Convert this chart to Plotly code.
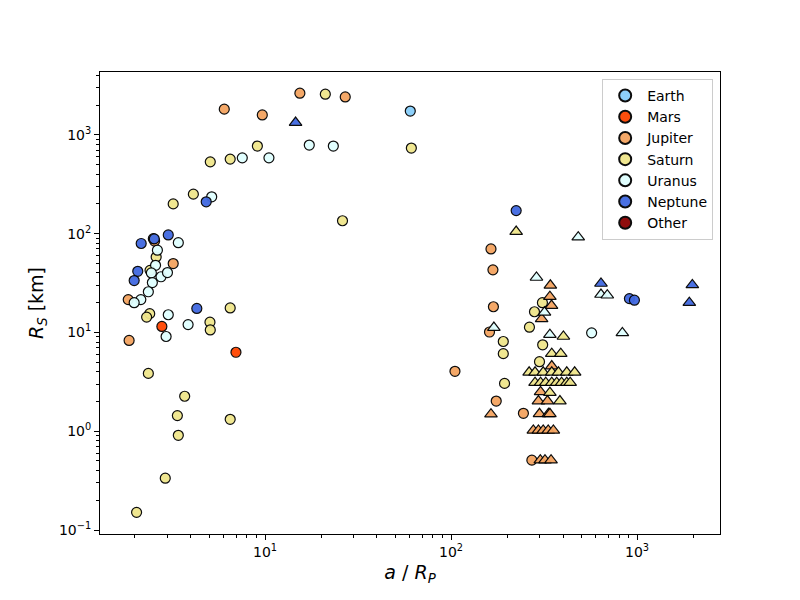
import plotly.graph_objects as go

# ---- data: (a/Rp, Rs km) ----
earth_pro_x = [60.4]
earth_pro_y = [1740]

mars_pro_x = [2.79, 6.98]
mars_pro_y = [11.5, 6.3]

jupiter_pro_x = [6.04, 9.67, 15.4, 27.0, 2.55, 3.21, 1.84, 1.86, 164, 168, 169, 161, 105, 175, 245, 272]
jupiter_pro_y = [1820, 1590, 2640, 2420, 84, 49.8, 21.5, 8.3, 70, 43, 18.2, 10.1, 4.04, 2.02, 1.52, 0.51]
jupiter_ret_x = [342, 340, 347, 307, 348, 303, 295, 330, 164, 299, 334, 340, 277, 295, 313, 333, 355, 302, 320, 345]
jupiter_ret_y = [30, 23, 18.7, 13.7, 4.57, 2.5, 2.02, 2.02, 1.49, 1.5, 1.5, 1.5, 1.02, 1.02, 1.02, 1.02, 1.02, 0.51, 0.51, 0.51]

saturn_pro_x = [21.1, 61.2, 9.1, 5.08, 6.5, 4.12, 3.21, 26.1, 2.51, 2.60, 2.41, 2.40, 2.31, 6.5, 5.06, 5.08,
                2.36, 3.70, 3.38, 6.5, 3.42, 2.91, 2.04, 310, 281, 264, 191, 311, 191, 299, 194]
saturn_pro_y = [2580, 735, 770, 533, 568, 251, 200, 135, 89, 58, 42.5, 15.5, 14.3, 17.7, 12.7, 10.6,
                3.85, 2.26, 1.44, 1.32, 0.91, 0.335, 0.151, 20, 16.2, 11.3, 8.1, 7.5, 6.1, 5.06, 3.05]
saturn_ret_x = [224, 402, 348, 389, 263, 283, 313, 348, 378, 419, 462, 283, 303, 323, 348, 370, 393, 419, 437,
                340, 385]
saturn_ret_y = [105, 9.1, 6.1, 6.1, 3.95, 3.95, 3.95, 3.95, 3.95, 3.95, 3.95, 3.1, 3.1, 3.1, 3.1, 3.1, 3.1, 3.1, 3.1,
                2.46, 2.02]

uranus_pro_x = [17.3, 23.3, 7.55, 10.5, 5.17, 3.42, 2.64, 2.58, 2.45, 2.76, 2.99, 2.48, 2.36, 2.15, 1.98, 3.02, 3.86, 2.94, 570]
uranus_pro_y = [788, 770, 585, 585, 236, 81, 68, 47.8, 40, 36.6, 40.4, 32, 25.8, 21.5, 20, 15.1, 12.0, 9.1, 9.9]
uranus_ret_x = [483, 288, 318, 170, 340, 640, 692, 834]
uranus_ret_y = [92, 36, 16, 11.2, 9.5, 24.2, 23.8, 9.9]

neptune_pro_x = [4.83, 3.02, 2.54, 2.16, 2.07, 1.98, 4.30, 224, 910, 968]
neptune_pro_y = [210, 97, 88.5, 79.5, 41.6, 33.5, 17.5, 171, 22, 21.2]
neptune_ret_x = [14.6, 640, 1983, 1910]
neptune_ret_y = [1330, 31.3, 30.3, 20]

other_pro_x = [None]
other_pro_y = [None]

x_tickvals = [10, 100, 1000]
x_ticktext = ["10<sup>1</sup>", "10<sup>2</sup>", "10<sup>3</sup>"]
y_tickvals = [0.1, 1, 10, 100, 1000]
y_ticktext = ["10<sup>\u22121</sup>", "10<sup>0</sup>", "10<sup>1</sup>", "10<sup>2</sup>", "10<sup>3</sup>"]

groups = [
    ("Earth", "#87CEFA", earth_pro_x, earth_pro_y, [], []),
    ("Mars", "#FF4500", mars_pro_x, mars_pro_y, [], []),
    ("Jupiter", "#F4A460", jupiter_pro_x, jupiter_pro_y, jupiter_ret_x, jupiter_ret_y),
    ("Saturn", "#F0E68C", saturn_pro_x, saturn_pro_y, saturn_ret_x, saturn_ret_y),
    ("Uranus", "#E0FFFF", uranus_pro_x, uranus_pro_y, uranus_ret_x, uranus_ret_y),
    ("Neptune", "#4169E1", neptune_pro_x, neptune_pro_y, neptune_ret_x, neptune_ret_y),
    ("Other", "#8B0000", other_pro_x, other_pro_y, [], []),
]

fig = go.Figure()
for name, col, px_, py_, rx, ry in groups:
    fig.add_trace(go.Scatter(
        x=px_, y=py_, mode="markers", name=name, legendgroup=name,
        marker=dict(symbol="circle", size=10, color=col, opacity=0.95,
                    line=dict(color="black", width=1.2)),
    ))
for name, col, px_, py_, rx, ry in groups:
    if rx:
        fig.add_trace(go.Scatter(
            x=rx, y=ry, mode="markers", name=name, legendgroup=name, showlegend=False,
            marker=dict(symbol="triangle-up", size=11, color=col, opacity=0.95,
                        line=dict(color="black", width=1.2)),
        ))

axis_common = dict(
    type="log", showgrid=False, zeroline=False, showline=True, linecolor="black",
    linewidth=1, mirror=True, ticks="outside", ticklen=5, tickwidth=1, tickcolor="black",
    tickfont=dict(size=14, color="black"),
    minor=dict(ticks="outside", ticklen=3, tickwidth=0.8, tickcolor="black", dtick="D1", showgrid=False),
)

fig.update_layout(
    width=800, height=600,
    margin=dict(l=92, r=88, t=64, b=74),
    paper_bgcolor="white", plot_bgcolor="white",
    font=dict(family="DejaVu Sans", color="black"),
    xaxis=dict(axis_common, range=[0.113, 3.446], tickvals=x_tickvals, ticktext=x_ticktext,
               title=dict(text="<i>a</i> / <i>R</i><sub><i>P</i></sub>", font=dict(size=19), standoff=6)),
    yaxis=dict(axis_common, range=[-1.04, 3.636], tickvals=y_tickvals, ticktext=y_ticktext,
               title=dict(text="<i>R</i><sub><i>S</i></sub> [km]", font=dict(size=19), standoff=10)),
    legend=dict(x=0.989, y=0.985, xanchor="right", yanchor="top", bgcolor="rgba(255,255,255,0.9)",
                bordercolor="#cccccc", borderwidth=1, font=dict(size=14), tracegroupgap=0,
                itemsizing="constant", itemwidth=34),
    showlegend=True,
)

fig.write_html("out.html")
